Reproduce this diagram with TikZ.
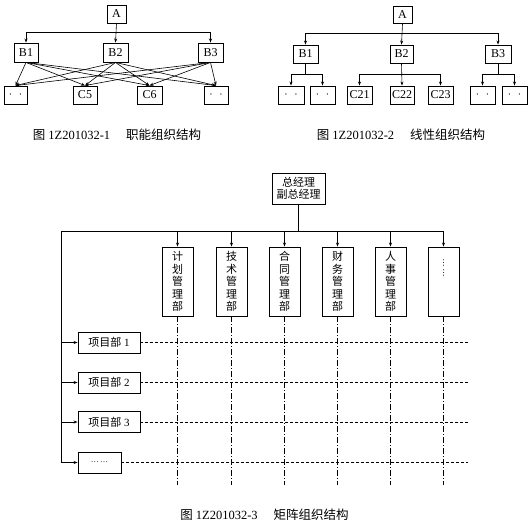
\documentclass[tikz,border=0pt]{standalone}
\usepackage{fontspec}
\setmainfont{Liberation Serif}
\newfontfamily\cjk{Noto Sans CJK SC}
\newfontfamily\dv{DejaVu Sans}
\usetikzlibrary{arrows.meta}
\tikzset{
 bx/.style={draw, line width=0.9pt, inner sep=0pt, minimum height=18pt, font=\fontsize{12}{12}\selectfont},
 ln/.style={line width=0.6pt},
 arr/.style={ln, -{Stealth[length=4pt,width=3pt]}},
 colbox/.style={draw, line width=0.9pt, inner sep=0pt, minimum width=31pt, minimum height=69pt, font=\cjk\fontsize{11}{12.5}\selectfont, align=center},
 prj/.style={draw, line width=0.9pt, inner sep=0pt, minimum height=21pt, font=\fontsize{11}{11}\selectfont},
 captext/.style={font=\fontsize{12.5}{12.5}\selectfont},
 dd/.style={line width=0.5pt, dash pattern=on 6pt off 2pt on 1pt off 2pt},
 hd/.style={line width=0.5pt, dash pattern=on 3pt off 2pt},
}
\begin{document}
\begin{tikzpicture}[x=1pt,y=-1pt]
\useasboundingbox (0,0) rectangle (530,525);
% ---------- Diagram 1 ----------
\node[bx, minimum width=19pt] (A1) at (116.5,14) {A};
\node[bx, minimum width=24pt, minimum height=19pt] (B11) at (26,52.5) {B1};
\node[bx, minimum width=25pt, minimum height=19pt] (B12) at (115.5,52.5) {B2};
\node[bx, minimum width=25pt, minimum height=19pt] (B13) at (210.5,52.5) {B3};
\node[bx, minimum width=23pt] (D11) at (15.5,95) {$\cdot\;\;\cdot$};
\node[bx, minimum width=24pt] (C5) at (85,95) {C5};
\node[bx, minimum width=25pt] (C6) at (149.5,95) {C6};
\node[bx, minimum width=24pt] (D14) at (216,95) {$\cdot\;\;\cdot$};
\coordinate (h1) at (0,32.5);
\draw[arr] (A1.south) -- (B12.north);
\draw[ln] (B11.north |- h1) -- (B13.north |- h1);
\draw[arr] (B11.north |- h1) -- (B11.north);
\draw[arr] (B13.north |- h1) -- (B13.north);
\foreach \b in {B11,B12,B13}{
  \foreach \c in {D11,C5,C6,D14}{
    \draw[arr] (\b.south) -- (\c.north);
  }
}
\node[captext] (cap1) at (117,135) {{\cjk 图} 1Z201032-1\hspace{16pt}{\cjk 职能组织结构}};
% ---------- Diagram 2 ----------
\node[bx, minimum width=19pt, minimum height=17pt] (A2) at (402.5,15) {A};
\node[bx, minimum width=25pt] (B21) at (305.5,54) {B1};
\node[bx, minimum width=23pt] (B22) at (401.5,54) {B2};
\node[bx, minimum width=26pt] (B23) at (498,54) {B3};
\node[bx, minimum width=26pt] (E1) at (291,95) {$\cdot\;\;\cdot$};
\node[bx, minimum width=25pt] (E2) at (322.5,95) {$\cdot\;\;\cdot$};
\node[bx, minimum width=25pt] (C21) at (359.5,95) {C21};
\node[bx, minimum width=24pt] (C22) at (402,95) {C22};
\node[bx, minimum width=25pt] (C23) at (440.5,95) {C23};
\node[bx, minimum width=25pt] (E6) at (482.5,95) {$\cdot\;\;\cdot$};
\node[bx, minimum width=25pt] (E7) at (514.5,95) {$\cdot\;\;\cdot$};
\coordinate (h2) at (0,33);
\coordinate (h3) at (0,74);
\draw[arr] (A2.south) -- (B22.north);
\draw[ln] (B21.north |- h2) -- (B23.north |- h2);
\draw[arr] (B21.north |- h2) -- (B21.north);
\draw[arr] (B23.north |- h2) -- (B23.north);
% B1 children
\draw[ln] (B21.south) -- (B21.south |- h3);
\draw[ln] (E1.north |- h3) -- (E2.north |- h3);
\draw[arr] (E1.north |- h3) -- (E1.north);
\draw[arr] (E2.north |- h3) -- (E2.north);
% B2 children
\draw[arr] (B22.south) -- (C22.north);
\draw[ln] (C21.north |- h3) -- (C23.north |- h3);
\draw[arr] (C21.north |- h3) -- (C21.north);
\draw[arr] (C23.north |- h3) -- (C23.north);
% B3 children
\draw[ln] (B23.south) -- (B23.south |- h3);
\draw[ln] (E6.north |- h3) -- (E7.north |- h3);
\draw[arr] (E6.north |- h3) -- (E6.north);
\draw[arr] (E7.north |- h3) -- (E7.north);
\node[captext] (cap2) at (401,135) {{\cjk 图} 1Z201032-2\hspace{16pt}{\cjk 线性组织结构}};
% ---------- Diagram 3 ----------
\node[draw, line width=0.9pt, inner sep=0pt, minimum width=53pt, minimum height=31pt, align=center, font=\cjk\fontsize{11}{12.3}\selectfont] (GM) at (298.5,188.5) {总经理\\副总经理};
\coordinate (hm) at (0,231);
\coordinate (lt) at (61,231);
\coordinate (lb) at (61,462.5);
\coordinate (rx) at (468,0);
\node[colbox] (K1) at (177.5,281.5) {计\\划\\管\\理\\部};
\node[colbox] (K2) at (231.5,281.5) {技\\术\\管\\理\\部};
\node[colbox] (K3) at (284.5,281.5) {合\\同\\管\\理\\部};
\node[colbox] (K4) at (337.5,281.5) {财\\务\\管\\理\\部};
\node[colbox] (K5) at (390.5,281.5) {人\\事\\管\\理\\部};
\node[colbox] (K6) at (443.5,281.5) {};
\node[font=\dv\fontsize{8}{10}\selectfont, align=center, inner sep=0pt] (K6t) at (443.5,268) {⋮\\⋮};
\draw[ln] (GM.south) -- (GM.south |- hm);
\draw[ln] (lt) -- (K6.north |- hm);
\foreach \k in {K1,K2,K3,K4,K5,K6}{
  \draw[arr] (\k.north |- hm) -- (\k.north);
  \draw[dd] (\k.south) -- ++(0,169);
}
\draw[ln] (lt) -- (lb);
\node[prj, minimum width=62pt] (P1) at (109,342.5) {{\cjk 项目部} 1};
\node[prj, minimum width=62pt] (P2) at (109,382.5) {{\cjk 项目部} 2};
\node[prj, minimum width=62pt] (P3) at (109,422) {{\cjk 项目部} 3};
\node[prj, minimum width=43pt] (P4) at (99.5,462.5) {{\fontsize{8}{8}\selectfont …\,…}};
\foreach \p in {P1,P2,P3,P4}{
  \draw[arr] (lt |- \p.west) -- (\p.west);
  \draw[hd] (\p.east) -- (\p.east -| rx);
}
\node[captext] (cap3) at (264.5,515) {{\cjk 图} 1Z201032-3\hspace{16pt}{\cjk 矩阵组织结构}};
\end{tikzpicture}
\end{document}
